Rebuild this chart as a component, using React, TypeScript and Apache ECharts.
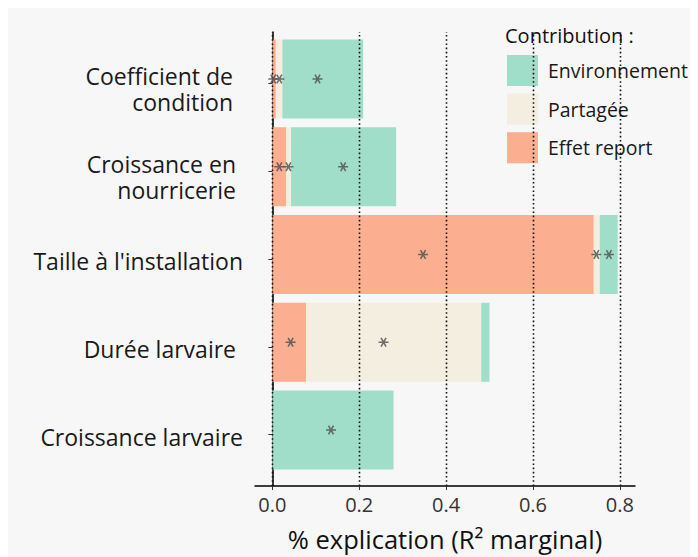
import React, { useEffect, useRef } from "react";
import * as echarts from "echarts";

const categories = [
  "Coefficient de\ncondition",
  "Croissance en\nnourricerie",
  "Taille à l'installation",
  "Durée larvaire",
  "Croissance larvaire",
];
const effetReport = [0.008, 0.032, 0.74, 0.078, 0];
const partagee = [0.015, 0.011, 0.014, 0.403, 0];
const environnement = [0.186, 0.242, 0.041, 0.019, 0.279];
// significance stars: [x value, category index]
const stars: [number, number][] = [
  [0.002, 0], [0.016, 0], [0.104, 0],
  [0.016, 1], [0.037, 1], [0.163, 1],
  [0.347, 2], [0.746, 2], [0.775, 2],
  [0.042, 3], [0.256, 3],
  [0.135, 4],
];
const xTicks = [0, 0.2, 0.4, 0.6, 0.8];
const legendNames = ["Environnement", "Partagée", "Effet report"];

const FONT = "'Open Sans', 'Noto Sans', sans-serif";
const COLORS = { env: "#a1dec9", part: "#f4eee0", eff: "#fcae91" };
// label nudges: [top padding of each line, right padding]
const labelNudge = [
  [12, 10],
  [12, 7],
  [4, 0],
  [4, 7],
  [4, 0],
];

const STAR_PATH =
  "path://M-5,-0.8L5,-0.8L5,0.8L-5,0.8Z" +
  "M-3.19,-3.93L-1.81,-4.73L3.19,3.93L1.81,4.73Z" +
  "M1.81,-4.73L3.19,-3.93L-1.81,4.73L-3.19,3.93Z";

const X_MIN = -0.04;
const X_MAX = 0.835;

export default function App() {
  const ref = useRef<HTMLDivElement>(null);
  useEffect(() => {
    document.documentElement.style.overflow = "hidden";
    document.body.style.overflow = "hidden";
    const chart = echarts.init(ref.current!, null, { renderer: "svg" });

    const rich: any = {};
    labelNudge.forEach(([top, right], i) => {
      rich["h" + i] = { fontFamily: FONT, fontSize: 23, color: "#1a1a1a", lineHeight: 26, padding: [top, right, 0, 0] };
    });

    const option: any = {
      animation: false,
      backgroundColor: "#f7f7f7",
      textStyle: { fontFamily: FONT },
      title: {
        text: "Contribution :",
        left: 497,
        top: 17,
        padding: 0,
        textStyle: { fontFamily: FONT, fontSize: 20, fontWeight: "normal", color: "#111" },
      },
      legend: {
        data: legendNames,
        orient: "vertical",
        left: 499,
        top: 47,
        padding: 0,
        itemWidth: 31,
        itemHeight: 31,
        itemGap: 7.6,
        icon: "rect",
        selectedMode: false,
        textStyle: { fontFamily: FONT, fontSize: 19.5, color: "#1a1a1a", padding: [0, 0, 0, 5] },
      },
      grid: [
        { left: 247, right: 63, top: 27.1, bottom: 83.1 },
        { left: 247, right: 63, top: 24, bottom: 71 },
        { left: 247, right: 63, top: 31.6, bottom: 78.6 },
      ],
      xAxis: [
        { type: "value", gridIndex: 0, min: X_MIN, max: X_MAX, show: false },
        {
          type: "value",
          gridIndex: 1,
          min: X_MIN,
          max: X_MAX,
          axisLine: { show: true, lineStyle: { color: "#000", width: 1.5 } },
          axisTick: { show: true, customValues: xTicks, length: 4, lineStyle: { color: "#333" } },
          axisLabel: {
            customValues: xTicks,
            formatter: (v: number) => v.toFixed(1),
            fontFamily: FONT,
            fontSize: 20,
            color: "#333",
            margin: 8,
          },
          splitLine: { show: false },
          name: "% explication (R² marginal)",
          nameLocation: "middle",
          nameGap: 40,
          nameTextStyle: { fontFamily: FONT, fontSize: 25.5, color: "#111" },
        },
        { type: "value", gridIndex: 2, min: X_MIN, max: X_MAX, show: false },
      ],
      yAxis: [
        { type: "category", gridIndex: 0, inverse: true, data: categories, show: false },
        {
          type: "value",
          gridIndex: 1,
          min: 0,
          max: 1,
          axisLine: { show: true, lineStyle: { color: "#000", width: 1.5 } },
          axisTick: { show: false },
          axisLabel: { show: false },
          splitLine: { show: false },
        },
        {
          type: "category",
          gridIndex: 2,
          inverse: true,
          data: categories,
          axisLine: { show: false },
          axisTick: { show: true, alignWithLabel: true, length: 4, lineStyle: { color: "#333" } },
          axisLabel: {
            fontFamily: FONT,
            fontSize: 23,
            color: "#1a1a1a",
            margin: 12,
            lineHeight: 26,
            formatter: (value: string, index: number) =>
              value.split("\n").map((line) => `{h${index}|${line}}`).join("\n"),
            rich,
          },
        },
      ],
      series: [
        { name: "Effet report", type: "bar", stack: "total", xAxisIndex: 0, yAxisIndex: 0, barWidth: "90%", itemStyle: { color: COLORS.eff }, data: effetReport },
        { name: "Partagée", type: "bar", stack: "total", xAxisIndex: 0, yAxisIndex: 0, barWidth: "90%", itemStyle: { color: COLORS.part }, data: partagee },
        { name: "Environnement", type: "bar", stack: "total", xAxisIndex: 0, yAxisIndex: 0, barWidth: "90%", itemStyle: { color: COLORS.env }, data: environnement },
        {
          name: "gridlines",
          type: "custom",
          xAxisIndex: 1,
          yAxisIndex: 1,
          z: 20,
          silent: true,
          data: xTicks.map((v) => [v, 0]),
          renderItem: (params: any, api: any) => {
            const v = api.value(0);
            const p1 = api.coord([v, 0]);
            const p2 = api.coord([v, 1]);
            const x = Math.round(p1[0]) + 0.5;
            return {
              type: "line",
              shape: { x1: x, y1: p1[1], x2: x, y2: p2[1] },
              style: { stroke: "#111", lineWidth: 1.6, lineDash: [1.6, 2.6], fill: null },
            };
          },
        },
        {
          name: "stars",
          type: "scatter",
          xAxisIndex: 0,
          yAxisIndex: 0,
          z: 21,
          silent: true,
          symbol: STAR_PATH,
          symbolSize: [10, 9.5],
          itemStyle: { color: "#4d4d4d" },
          data: stars.map(([x, i]) => [x, categories[i]]),
        },
      ],
    };
    chart.setOption(option);
    return () => chart.dispose();
  }, []);
  return <div ref={ref} style={{ width: 690, height: 549 }} />;
}
